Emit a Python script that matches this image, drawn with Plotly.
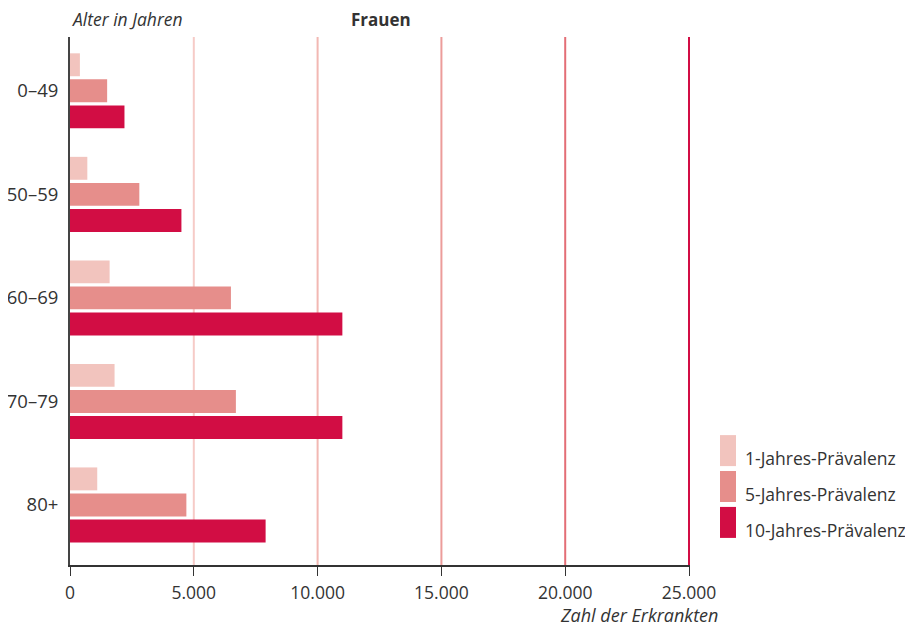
import plotly.graph_objects as go

categories = ["0–49", "50–59", "60–69", "70–79", "80+"]
series_names = ["1-Jahres-Prävalenz", "5-Jahres-Prävalenz", "10-Jahres-Prävalenz"]
prev_1 = [400, 700, 1600, 1800, 1100]
prev_5 = [1500, 2800, 6500, 6700, 4700]
prev_10 = [2200, 4500, 11000, 11000, 7900]
x_ticks = [0, 5000, 10000, 15000, 20000, 25000]
x_ticktext = ["0", "5.000", "10.000", "15.000", "20.000", "25.000"]

colors = ["#F2C4BE", "#E68E8B", "#D20D44"]
grid_colors = [None, "#F6CBC7", "#F2B8B3", "#EC9C9A", "#E36E76", "#D20D44"]
FONT = "'Open Sans', Lato, sans-serif"
TXT = "#333333"

fig = go.Figure()
for name, vals, col in zip(series_names, [prev_1, prev_5, prev_10], colors):
    fig.add_trace(go.Bar(
        y=categories, x=vals, name=name, orientation="h",
        marker=dict(color=col, line=dict(width=0)),
        showlegend=False,
    ))

# gridlines with graded colours
for v, gc in zip(x_ticks, grid_colors):
    if gc is None:
        continue
    fig.add_shape(type="line", xref="x", yref="paper", x0=v, x1=v, y0=0, y1=1,
                  line=dict(color=gc, width=2), layer="below")

# custom legend
sw_top = [0.246, 0.178, 0.110]
sw_h = 0.0587
for name, col, yt in zip(series_names, colors, sw_top):
    fig.add_shape(type="rect", xref="paper", yref="paper",
                  x0=1.0484, x1=1.0742, y0=yt - sw_h, y1=yt,
                  fillcolor=col, line=dict(width=0))
    fig.add_annotation(xref="paper", yref="paper", x=1.086, y=yt - sw_h * 0.75,
                       text=name, showarrow=False, xanchor="left", yanchor="middle",
                       font=dict(family=FONT, size=17.5, color=TXT))

fig.add_annotation(xref="paper", yref="paper", x=0, y=1.0, yshift=18,
                   text="<i>Alter in Jahren</i>", showarrow=False,
                   xanchor="left", yanchor="middle",
                   font=dict(family=FONT, size=17.5, color=TXT))
fig.add_annotation(xref="paper", yref="paper", x=0.502, y=1.0, yshift=18,
                   text="<b>Frauen</b>", showarrow=False,
                   xanchor="center", yanchor="middle",
                   font=dict(family=FONT, size=17, color=TXT))
fig.add_annotation(xref="paper", yref="paper", x=1.048, y=0, yshift=-50,
                   text="<i>Zahl der Erkrankten</i>", showarrow=False,
                   xanchor="right", yanchor="middle",
                   font=dict(family=FONT, size=18, color=TXT))

# page has an 8px body margin: figure is shrunk by 8px and margins compensate
fig.update_layout(
    width=905, height=623,
    margin=dict(l=62, r=223, t=29, b=66, autoexpand=False),
    paper_bgcolor="white", plot_bgcolor="white",
    barmode="group", bargap=0.245, bargroupgap=0.12,
    font=dict(family=FONT, color=TXT),
    showlegend=False,
    xaxis=dict(range=[0, 25040], tickvals=x_ticks, ticktext=x_ticktext,
               showgrid=False, zeroline=False, automargin=False,
               showline=True, linecolor="#333333", linewidth=2,
               ticks="outside", ticklen=9, tickwidth=1, tickcolor="#333333",
               ticklabelstandoff=2,
               tickfont=dict(family=FONT, size=17.5, color=TXT)),
    yaxis=dict(range=[4.58, -0.52], showgrid=False, zeroline=False, automargin=False,
               showline=True, linecolor="#444444", linewidth=2,
               ticks="", ticklabelstandoff=6,
               tickfont=dict(family=FONT, size=18.5, color=TXT)),
)

fig.write_html("out.html")
